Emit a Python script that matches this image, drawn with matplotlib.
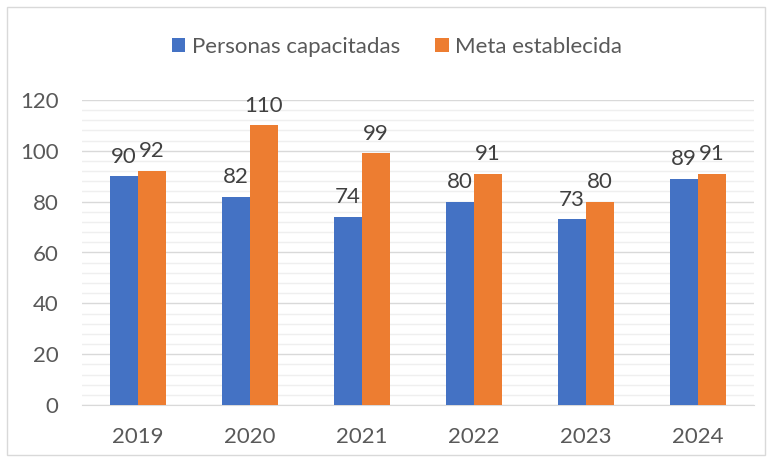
import matplotlib
matplotlib.use('Agg')
from matplotlib import pyplot as plt
import numpy as np

years = ['2019', '2020', '2021', '2022', '2023', '2024']
capacitadas = [90, 82, 74, 80, 73, 89]
meta = [92, 110, 99, 91, 80, 91]

BLUE = '#4472C4'
ORANGE = '#ED7D31'
TEXT = '#595959'

plt.rcParams['font.family'] = ['Lato', 'DejaVu Sans']


def main():
    fig = plt.figure(figsize=(7.69, 4.61), dpi=100)
    ax = fig.add_axes([82 / 769, 1 - 405 / 461, 672 / 769, 305 / 461])

    x = np.arange(len(years))
    w = 0.25
    b1 = ax.bar(x - w / 2, capacitadas, w, color=BLUE, label='Personas capacitadas', zorder=3)
    b2 = ax.bar(x + w / 2, meta, w, color=ORANGE, label='Meta establecida', zorder=3)

    for bars in (b1, b2):
        ax.bar_label(bars, padding=7, fontsize=16, color='#404040')

    ax.set_xlim(-0.5, len(years) - 0.5)
    ax.set_ylim(0, 120)
    ax.set_yticks(range(0, 121, 20))
    ax.set_yticks(range(0, 121, 4), minor=True)
    ax.set_xticks(x)
    ax.set_xticklabels(years)
    ax.grid(axis='y', which='major', color='#D9D9D9', linewidth=1, zorder=0)
    ax.grid(axis='y', which='minor', color='#EFEFEF', linewidth=1, zorder=0)
    ax.tick_params(axis='both', which='both', length=0, labelsize=16, colors=TEXT)
    ax.tick_params(axis='y', pad=17)
    ax.tick_params(axis='x', pad=16)
    for side in ['top', 'right', 'left']:
        ax.spines[side].set_visible(False)
    ax.spines['bottom'].set_color('#D9D9D9')

    fig.legend(handles=[b1, b2], loc='center', bbox_to_anchor=(397 / 769, 1 - 47 / 461),
               ncol=2, frameon=False, fontsize=16, labelcolor=TEXT,
               handlelength=0.6, handleheight=0.6, columnspacing=1.6, handletextpad=0.3)

    # outer chart border
    fig.patches.append(plt.Rectangle((7 / 769, 6 / 461), 758 / 769, 448 / 461,
                                     transform=fig.transFigure, fill=False,
                                     edgecolor='#D9D9D9', linewidth=1))

    fig.savefig('out.png', dpi=100)


if __name__ == '__main__':
    main()
